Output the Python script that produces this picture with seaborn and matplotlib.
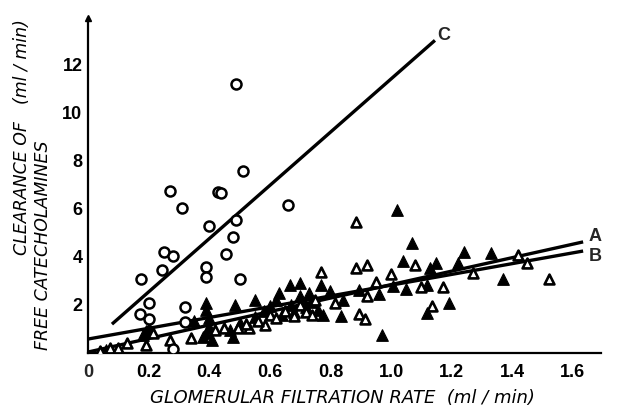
import matplotlib
matplotlib.use("Agg")
import matplotlib.pyplot as plt
import seaborn as sns
import pandas as pd

# ---- data ----
circle_x = [0.49, 0.51, 0.27, 0.43, 0.44, 0.31, 0.66, 0.40, 0.49, 0.48, 0.455, 0.25,
            0.28, 0.245, 0.39, 0.39, 0.50, 0.175, 0.20, 0.32, 0.17, 0.20, 0.32, 0.28]
circle_y = [11.2, 7.57, 6.74, 6.70, 6.65, 6.03, 6.15, 5.28, 5.53, 4.82, 4.12, 4.20,
            4.03, 3.45, 3.57, 3.16, 3.08, 3.08, 2.08, 1.91, 1.62, 1.41, 1.29, 0.17]

filled_x = [0.06, 0.18, 0.19, 0.20, 0.35, 0.38, 0.39, 0.41, 0.40, 0.39, 0.39, 0.40,
            0.47, 0.48, 0.485, 0.50, 0.55, 0.55, 0.58, 0.60, 0.62, 0.63, 0.64, 0.667,
            0.67, 0.68, 0.70, 0.70, 0.72, 0.73, 0.74, 0.77, 0.76, 0.80, 0.775, 0.835,
            0.84, 0.895, 0.96, 0.97, 1.005, 1.02, 1.04, 1.05, 1.07, 1.12, 1.12, 1.13,
            1.15, 1.19, 1.22, 1.24, 1.33, 1.37]
filled_y = [0.12, 0.75, 0.90, 1.04, 1.33, 0.67, 0.85, 0.54, 1.10, 1.79, 2.08, 1.45,
            0.96, 0.67, 2.00, 1.25, 2.20, 1.50, 1.75, 1.95, 2.20, 2.50, 1.60, 2.83,
            2.00, 1.70, 2.91, 2.35, 1.90, 2.49, 2.10, 2.81, 1.80, 2.58, 1.58, 1.54,
            2.20, 2.62, 2.45, 0.75, 2.79, 5.95, 3.83, 2.66, 4.57, 2.83, 1.66, 3.53,
            3.74, 2.08, 3.74, 4.20, 4.16, 3.08]

open_x = [0.04, 0.073, 0.10, 0.13, 0.19, 0.215, 0.27, 0.34, 0.42, 0.45, 0.495, 0.53,
          0.52, 0.585, 0.56, 0.60, 0.62, 0.65, 0.68, 0.70, 0.72, 0.74, 0.75, 0.77,
          0.815, 0.885, 0.885, 0.92, 0.895, 0.915, 0.92, 0.95, 1.00, 1.08, 1.10, 1.135,
          1.17, 1.27, 1.42, 1.45, 1.52]
open_y = [0.08, 0.21, 0.20, 0.40, 0.35, 0.82, 0.56, 0.62, 0.96, 1.04, 1.04, 1.04,
          1.22, 1.16, 1.35, 1.60, 1.45, 1.75, 1.55, 2.00, 1.72, 1.60, 2.20, 3.37,
          2.08, 5.45, 3.53, 3.66, 1.62, 1.41, 2.37, 2.95, 3.28, 3.66, 2.74, 1.95,
          2.74, 3.33, 4.07, 3.74, 3.08]

line_ab_x = [0.0, 1.634]
line_a_y = [0.04, 4.62]
line_b_y = [0.58, 4.24]
line_c_x = [0.079, 1.145]
line_c_y = [1.2, 13.0]

x_ticks = [0.2, 0.4, 0.6, 0.8, 1.0, 1.2, 1.4, 1.6]
x_tick_labels = ["0.2", "0.4", "0.6", "0.8", "1.0", "1.2", "1.4", "1.6"]
y_ticks = [2, 4, 6, 8, 10, 12]
y_tick_labels = ["2", "4", "6", "8", "10", "12"]

# ---- plotting ----
sns.set_style("white")
plt.rcParams['font.family'] = ['DejaVu Sans']

fig = plt.figure(figsize=(6.21, 4.09), dpi=100)
ax = fig.add_axes([88/621, 56/409, 513/621, 335/409])

lw_line = 2.4
sns.lineplot(x=line_ab_x, y=line_a_y, ax=ax, color="black", lw=lw_line, solid_capstyle="butt")
sns.lineplot(x=line_ab_x, y=line_b_y, ax=ax, color="black", lw=lw_line, solid_capstyle="butt")
sns.lineplot(x=line_c_x, y=line_c_y, ax=ax, color="black", lw=lw_line, solid_capstyle="butt")

sns.scatterplot(x=filled_x, y=filled_y, ax=ax, marker="^", s=70, color="black",
                edgecolor="black", linewidth=0.8, zorder=3)
sns.scatterplot(x=open_x, y=open_y, ax=ax, marker="^", s=50, facecolor="white",
                edgecolor="black", linewidth=1.9, zorder=4)
sns.scatterplot(x=circle_x, y=circle_y, ax=ax, marker="o", s=52, facecolor="white",
                edgecolor="black", linewidth=1.8, zorder=4)

ax.set_xlim(0, 1.693)
ax.set_ylim(0, 13.93)
for side in ["top", "right"]:
    ax.spines[side].set_visible(False)
for side in ["left", "bottom"]:
    ax.spines[side].set_linewidth(1.6)
    ax.spines[side].set_color("black")

tick_font = dict(family=["Liberation Sans", "DejaVu Sans"], fontweight="bold", fontsize=13)
ax.set_xticks(x_ticks)
ax.set_xticklabels(x_tick_labels, **tick_font)
ax.set_yticks(y_ticks)
ax.set_yticklabels(y_tick_labels, **tick_font)
ax.tick_params(axis="both", direction="in", length=7.5, width=1.5, color="black",
               labelcolor="black")
ax.tick_params(axis="x", pad=8)
ax.tick_params(axis="y", pad=4)

# y axis arrow head
ax.plot([0], [13.93], marker="^", ms=5, color="black", clip_on=False)

# origin "0"
ax.text(0, -0.45, "0", ha="center", va="top", transform=ax.transData, **tick_font)

# line labels
ax.text(1.675, 4.85, "A", ha="center", va="center", **tick_font)
ax.text(1.675, 4.02, "B", ha="center", va="center", **tick_font)
ax.text(1.175, 13.2, "C", ha="center", va="center", **tick_font)

lab_font = dict(fontsize=13, fontstyle="italic", color="black",
                family=["Liberation Sans Narrow", "DejaVu Sans"])
ylab_font = dict(lab_font, fontsize=12.5)
fig.text(342/621, 1 - 398/409, "GLOMERULAR FILTRATION RATE  (ml / min)",
         ha="center", va="center", **lab_font)
fig.text(22/621, 1 - 188/409, "CLEARANCE OF", rotation=90, ha="center", va="center", **ylab_font)
fig.text(22/621, 1 - 62/409, "(ml / min)", rotation=90, ha="center", va="center", **ylab_font)
fig.text(43/621, 1 - 245/409, "FREE CATECHOLAMINES", rotation=90, ha="center", va="center", **ylab_font)

fig.savefig("out.png", dpi=100)
